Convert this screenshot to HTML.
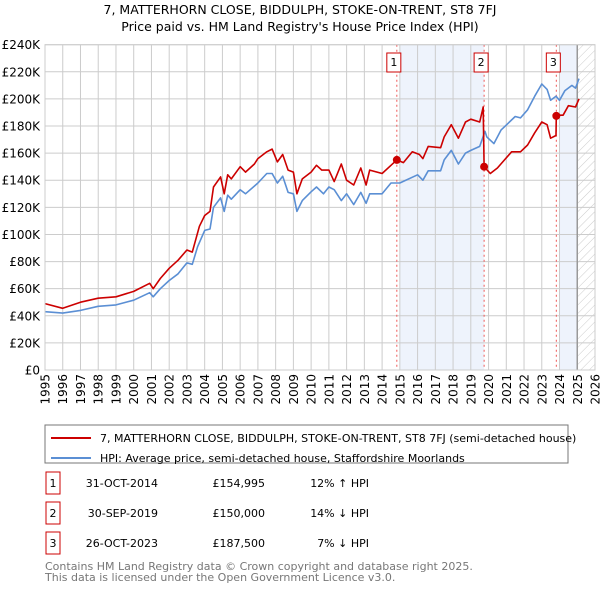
<!DOCTYPE html>
<html><head><meta charset="utf-8"><style>
body{margin:0;background:#fff;font-family:"Liberation Sans","DejaVu Sans",sans-serif;}
svg text{font-family:"DejaVu Sans","Liberation Sans",sans-serif;}
</style></head><body>
<svg width="600" height="590" viewBox="0 0 600 590" xmlns="http://www.w3.org/2000/svg">
<defs><pattern id="hatch" width="6" height="6" patternUnits="userSpaceOnUse" patternTransform="rotate(45)"><line x1="0" y1="0" x2="0" y2="6" stroke="#ccc" stroke-width="1"/></pattern></defs>
<text x="300" y="14" text-anchor="middle" font-size="12.5" fill="#000">7, MATTERHORN CLOSE, BIDDULPH, STOKE-ON-TRENT, ST8 7FJ</text>
<text x="300" y="31" text-anchor="middle" font-size="12.5" fill="#000">Price paid vs. HM Land Registry's House Price Index (HPI)</text>
<g id="plot"></g>
<rect x="45" y="425" width="523" height="38" fill="#fff" stroke="#777"/>
<line x1="51" y1="438" x2="91" y2="438" stroke="#cc0000" stroke-width="2"/>
<text x="100" y="442" font-size="11">7, MATTERHORN CLOSE, BIDDULPH, STOKE-ON-TRENT, ST8 7FJ (semi-detached house)</text>
<line x1="51" y1="458" x2="91" y2="458" stroke="#5b8fd4" stroke-width="2"/>
<text x="100" y="462" font-size="11">HPI: Average price, semi-detached house, Staffordshire Moorlands</text>
<g id="table" font-size="11"></g>
<text x="45" y="570" font-size="11" fill="#777">Contains HM Land Registry data © Crown copyright and database right 2025.</text>
<text x="45" y="581" font-size="11" fill="#777">This data is licensed under the Open Government Licence v3.0.</text>
</svg>
<script>
const hpiYears=[1995,1996,1997,1998,1999,2000,2000.9,2001.1,2001.5,2002,2002.5,2003,2003.3,2003.6,2004,2004.3,2004.5,2004.9,2005.1,2005.3,2005.5,2006,2006.3,2007,2007.5,2007.8,2008.1,2008.4,2008.7,2009,2009.2,2009.5,2010,2010.3,2010.7,2011,2011.3,2011.7,2012,2012.4,2012.8,2013.1,2013.3,2014,2014.5,2015,2016,2016.3,2016.6,2017.3,2017.5,2017.9,2018.3,2018.7,2019,2019.5,2019.8,2019.9,2020.3,2020.7,2021.1,2021.5,2021.8,2022.2,2022.6,2023,2023.3,2023.5,2023.8,2024,2024.3,2024.7,2024.9,2025.1];
const hpiValues=[43,42,44,47,48,51.5,57,54,60,66,71,79,78,91,103,104,120,127,117,129,126,133,130,138,145,145,138,143,131,130,117,125,131.5,135,130,135,133,125,130,122,131,123,130,130,138,138,144,140,147,147,155,162,152,160,162,165,176,172,167,177,182,187,186,192,202,211,207,199,202,199,206,210,208,215];
const propYears=[1995,1996,1997,1998,1999,2000,2000.9,2001.1,2001.5,2002,2002.5,2003,2003.3,2003.7,2004,2004.3,2004.5,2004.9,2005.1,2005.3,2005.5,2006,2006.3,2006.8,2007,2007.5,2007.8,2008.1,2008.4,2008.7,2009,2009.2,2009.5,2010,2010.3,2010.6,2011,2011.3,2011.7,2012,2012.4,2012.8,2013.1,2013.3,2014,2014.5,2014.83,2015.2,2015.7,2016.1,2016.3,2016.6,2017.3,2017.5,2017.9,2018.3,2018.7,2019,2019.5,2019.7,2019.75,2020.1,2020.5,2020.9,2021.3,2021.8,2022.2,2022.6,2023,2023.3,2023.5,2023.8,2023.82,2024.2,2024.5,2024.9,2025.1];
const propValues=[49,45.5,50,53,54,58,64,60,67.5,75,81,88.5,87,106,114,117,135,142.5,130,144,141,150,146,152,156,161,163,153.5,159,147.5,146,130,141,146,151,147.5,147.5,139,152,140,136.5,149,136.5,147.5,145,151,155,153,161,159,156,165,164,172,181,171,183,185,183,194,150,145,149,155,161,161,166,175,183,181,171,173,188,188,195,194,200];
const saleLabels=["1","2","3"];
const saleYears=[2014.83,2019.75,2023.82];
const salePrices=[154.995,150,187.5];
const saleDates=["31-OCT-2014","30-SEP-2019","26-OCT-2023"];
const salePriceText=["£154,995","£150,000","£187,500"];
const saleHpiText=["12% ↑ HPI","14% ↓ HPI","7% ↓ HPI"];
const yTicks=[0,20,40,60,80,100,120,140,160,180,200,220,240];
const xTicks=[1995,1996,1997,1998,1999,2000,2001,2002,2003,2004,2005,2006,2007,2008,2009,2010,2011,2012,2013,2014,2015,2016,2017,2018,2019,2020,2021,2022,2023,2024,2025,2026];

const NS="http://www.w3.org/2000/svg";
const X0=45,X1=595,Y0=370,Y1=44.7;
const xs=y=>X0+(y-1995)/(2026-1995)*(X1-X0);
const ys=v=>Y0-v/240*(Y0-Y1);
const plot=document.getElementById('plot');
function mk(tag,attrs,parent){const e=document.createElementNS(NS,tag);for(const k in attrs)e.setAttribute(k,attrs[k]);(parent||plot).appendChild(e);return e;}
let s1=mk('rect',{x:xs(2015),y:Y1,width:xs(saleYears[1])-xs(2015),height:Y0-Y1,fill:'#eef3fc'});


let s2=mk('rect',{x:xs(2024),y:Y1,width:xs(2025)-xs(2024),height:Y0-Y1,fill:'#eef3fc'});


let h=mk('rect',{x:xs(2025),y:Y1,width:X1-xs(2025),height:Y0-Y1,fill:'url(#hatch)'});


yTicks.forEach(v=>{
  let l=mk('line',{x1:X0,x2:X1,y1:ys(v),y2:ys(v),stroke:'#ccc'});
  
  
  let t=mk('text',{x:40,y:ys(v)+4.5,'text-anchor':'end','font-size':'12'});
  t.textContent=v===0?'£0':'£'+v+'K';
  
  
});
xTicks.forEach(y=>{
  let l=mk('line',{x1:xs(y),x2:xs(y),y1:Y1,y2:Y0,stroke:'#ccc'});
  
  
  let t=mk('text',{x:0,y:0,'text-anchor':'end','font-size':'12',transform:`translate(${xs(y)+4.5},374) rotate(-90)`});
  t.textContent=y;
  
  
});
let ln=mk('line',{x1:xs(2025),x2:xs(2025),y1:Y1,y2:Y0,stroke:'#999','stroke-width':1.5});


saleYears.forEach((y,i)=>{
  let l=mk('line',{x1:xs(y),x2:xs(y),y1:Y1,y2:Y0,stroke:'#e55','stroke-dasharray':'2,3'});
  
  
});
function path(xa,va,color,name){
  let d=xa.map((x,i)=>(i?'L':'M')+xs(x).toFixed(1)+','+ys(va[i]).toFixed(1)).join('');
  let p=mk('path',{d:d,fill:'none',stroke:color,'stroke-width':1.6,'stroke-linejoin':'round'});
  
  
}
path(hpiYears,hpiValues,'#5b8fd4','hpi-line');
path(propYears,propValues,'#cc0000','property-price-line');
saleYears.forEach((y,i)=>{
  let c=mk('circle',{cx:xs(y),cy:ys(salePrices[i]),r:4,fill:'#cc0000'});
  
  
  let b=mk('rect',{x:xs(y)-10,y:53,width:14,height:19,fill:'#fff',stroke:'#cc0000'});
  
  
  let t=mk('text',{x:xs(y)-3,y:66,'text-anchor':'middle','font-size':'11'});
  t.textContent=saleLabels[i];
  
  
});
let border=mk('rect',{x:X0,y:Y1,width:X1-X0,height:Y0-Y1,fill:'none',stroke:'#ccc'});


const tb=document.getElementById('table');
saleLabels.forEach((lab,i)=>{
  const cy=483+i*30;
  let b=mk('rect',{x:46,y:cy-11,width:14,height:22,fill:'#fff',stroke:'#cc0000'},tb);
  
  
  const cells=[[53,lab,'middle'],[158,saleDates[i],'end'],[265,salePriceText[i],'end'],[369,saleHpiText[i],'end']];
  cells.forEach(c=>{
    let t=mk('text',{x:c[0],y:cy+4,'text-anchor':c[2]},tb);
    t.textContent=c[1];
    
    
  });
});
</script>
</body></html>
